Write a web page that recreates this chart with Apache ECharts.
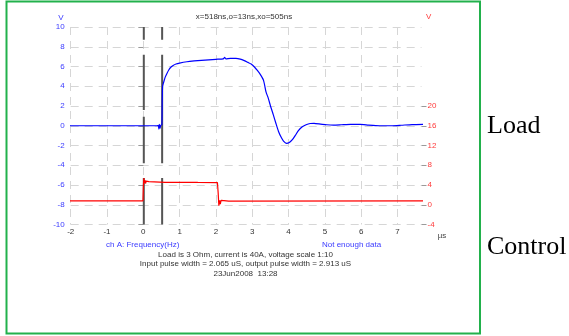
<!DOCTYPE html>
<html>
<head>
<meta charset="utf-8">
<script src="https://cdn.jsdelivr.net/npm/echarts@6/dist/echarts.min.js"></script>
<style>
html,body{margin:0;padding:0;background:#fff;}
#c{width:569px;height:336px;}
</style>
</head>
<body>
<div id="c"></div>
<script>
// ---- data (time in µs) ----
const loadTime = [-2.21,-1.0,0.0,0.38,0.41,0.43,0.44,0.46,0.48,0.51,0.52,0.53,0.56,0.6,0.65,0.7,0.75,0.82,0.9,1.0,1.2,1.4,1.6,1.8,2.0,2.2,2.24,2.27,2.4,2.55,2.67,2.78,2.88,2.97,3.06,3.14,3.22,3.31,3.38,3.44,3.51,3.58,3.65,3.72,3.8,3.86,3.94,4.02,4.11,4.19,4.27,4.36,4.44,4.52,4.6,4.7,4.88,5.05,5.24,5.45,5.7,5.97,6.2,6.4,6.6,6.85,7.1,7.4,7.76];
const loadVolts = [0,0,0,0,0.05,-0.35,0.15,-0.25,0.05,0.1,2.5,4.0,4.4,4.9,5.3,5.65,5.9,6.1,6.25,6.35,6.48,6.56,6.62,6.68,6.73,6.78,6.92,6.78,6.82,6.82,6.75,6.6,6.42,6.25,5.95,5.6,5.2,4.6,3.4,2.8,1.9,1.1,0.25,-0.55,-1.2,-1.55,-1.78,-1.7,-1.38,-0.95,-0.5,-0.15,0.02,0.15,0.23,0.24,0.17,0.1,0.07,0.1,0.14,0.14,0.07,0.02,0.0,0.0,0.05,0.12,0.15];
const controlTime = [-2.18,-0.01,0.0,0.015,0.03,0.045,0.06,0.08,0.1,0.15,0.2,0.3,0.45,0.6,1.0,1.5,2.04,2.06,2.08,2.1,2.12,2.14,2.17,2.22,2.35,7.76];
const controlVolts = [0.8,0.8,3.5,5.4,4.4,5.0,4.3,4.8,4.5,4.7,4.6,4.65,4.6,4.55,4.55,4.52,4.5,2.5,-0.2,0.9,0.1,0.9,0.5,0.85,0.75,0.8];
const cursorO = 0.013;   // o = 13 ns
const cursorX = 0.518;   // x = 518 ns
const cursorOSegments = [[10,8.7],[7.2,1.6],[0.9,-3.8],[-5.3,-10]];
const cursorXSegments = [[10,8.7],[7.2,-3.8],[-5.3,-10]];
const leftTicks = [-10,-8,-6,-4,-2,0,2,4,6,8,10];
const rightTickLabels = [-4,0,4,8,12,16,20];
const xTickLabels = [-2,-1,0,1,2,3,4,5,6,7];
const titleText = 'x=518ns,o=13ns,xo=505ns';
const infoLines = ['Load is 3 Ohm, current is 40A, voltage scale 1:10','Input pulse width = 2.065 uS, output pulse width = 2.913 uS','23Jun2008  13:28'];

function pairs(xs, ys){ return xs.map((x,i)=>[x, ys[i]]); }
function cursorData(x, segs){
  const out=[];
  segs.forEach((s,i)=>{ if(i>0) out.push([x,null]); out.push([x,s[0]]); out.push([x,s[1]]); });
  return out;
}
const FONT = '"Liberation Sans", Arial, sans-serif';
const SERIF = '"Liberation Serif", "Times New Roman", serif';
const chart = echarts.init(document.getElementById('c'), null, {renderer:'canvas'});
const gridDash = {color:'#d6d6d6', width:1, type:[8,6]};
chart.setOption({
  animation:false,
  backgroundColor:'#ffffff',
  grid:{left:70.7, right:569-421.5, top:27, bottom:336-224.5, outerBoundsMode:'none', containLabel:false},
  xAxis:{
    type:'value', min:-2, max:7.66, interval:1,
    axisLine:{show:false}, axisTick:{show:false},
    axisLabel:{color:'#333', fontSize:8, fontFamily:FONT, margin:3, customValues:xTickLabels},
    splitLine:{show:true, showMinLine:true, showMaxLine:false, lineStyle:gridDash}
  },
  yAxis:[
    {type:'value', min:-10, max:10, interval:2, position:'left',
      axisLine:{show:false},
      axisTick:{show:true, inside:false, length:5, lineStyle:{color:'#9a9a9a'}},
      axisLabel:{color:'#3b3bff', fontSize:8, fontFamily:FONT, margin:6, customValues:leftTicks},
      splitLine:{show:true, lineStyle:gridDash}
    },
    {type:'value', min:-4, max:36, interval:4, position:'right',
      axisLine:{show:false},
      axisTick:{show:true, inside:false, length:5, lineStyle:{color:'#9a9a9a'}, customValues:rightTickLabels},
      axisLabel:{color:'#ff3b3b', fontSize:8, fontFamily:FONT, margin:6, customValues:rightTickLabels},
      splitLine:{show:false}
    }
  ],
  series:[
    {type:'line', name:'cursor o', yAxisIndex:0, data:cursorData(cursorO, cursorOSegments),
      showSymbol:false, symbol:'none', connectNulls:false, clip:false,
      lineStyle:{color:'#555', width:2}, z:3},
    {type:'line', name:'cursor x', yAxisIndex:0, data:cursorData(cursorX, cursorXSegments),
      showSymbol:false, symbol:'none', connectNulls:false, clip:false,
      lineStyle:{color:'#555', width:2}, z:3},
    {type:'line', name:'Control', yAxisIndex:1, data:pairs(controlTime, controlVolts),
      showSymbol:false, symbol:'none', clip:false,
      lineStyle:{color:'#ff0000', width:1.2}, z:4},
    {type:'line', name:'Load', yAxisIndex:0, data:pairs(loadTime, loadVolts),
      showSymbol:false, symbol:'none', clip:false, smooth:0.2,
      lineStyle:{color:'#0000ff', width:1.2}, z:5}
  ],
  graphic:[
    {type:'rect', shape:{x:6.5, y:1.5, width:473.5, height:332}, style:{fill:'none', stroke:'#22b14c', lineWidth:2}, z:10},
    {type:'text', x:244, y:16.5, style:{text:titleText, fill:'#333', font:'8px '+FONT, textAlign:'center', textVerticalAlign:'middle'}},
    {type:'text', x:61, y:17.5, style:{text:'V', fill:'#3b3bff', font:'8px '+FONT, textAlign:'center', textVerticalAlign:'middle'}},
    {type:'text', x:428.7, y:16.7, style:{text:'V', fill:'#ff3b3b', font:'8px '+FONT, textAlign:'center', textVerticalAlign:'middle'}},
    {type:'text', x:442, y:235.5, style:{text:'µs', fill:'#444', font:'8px '+FONT, textAlign:'center', textVerticalAlign:'middle'}},
    {type:'text', x:106, y:245, style:{text:'ch A: Frequency(Hz)', fill:'#3b3bff', font:'8px '+FONT, textAlign:'left', textVerticalAlign:'middle'}},
    {type:'text', x:322, y:245, style:{text:'Not enough data', fill:'#3b3bff', font:'8px '+FONT, textAlign:'left', textVerticalAlign:'middle'}},
    {type:'text', x:245.5, y:254.5, style:{text:infoLines[0], fill:'#333', font:'8px '+FONT, textAlign:'center', textVerticalAlign:'middle'}},
    {type:'text', x:245.5, y:264.2, style:{text:infoLines[1], fill:'#333', font:'8px '+FONT, textAlign:'center', textVerticalAlign:'middle'}},
    {type:'text', x:245.5, y:274, style:{text:infoLines[2], fill:'#333', font:'8px '+FONT, textAlign:'center', textVerticalAlign:'middle'}},
    {type:'text', x:487, y:126.5, style:{text:'Load', fill:'#000', font:'26px '+SERIF, textAlign:'left', textVerticalAlign:'middle'}},
    {type:'text', x:487, y:247.5, style:{text:'Control', fill:'#000', font:'26px '+SERIF, textAlign:'left', textVerticalAlign:'middle'}}
  ]
});
</script>
</body>
</html>
